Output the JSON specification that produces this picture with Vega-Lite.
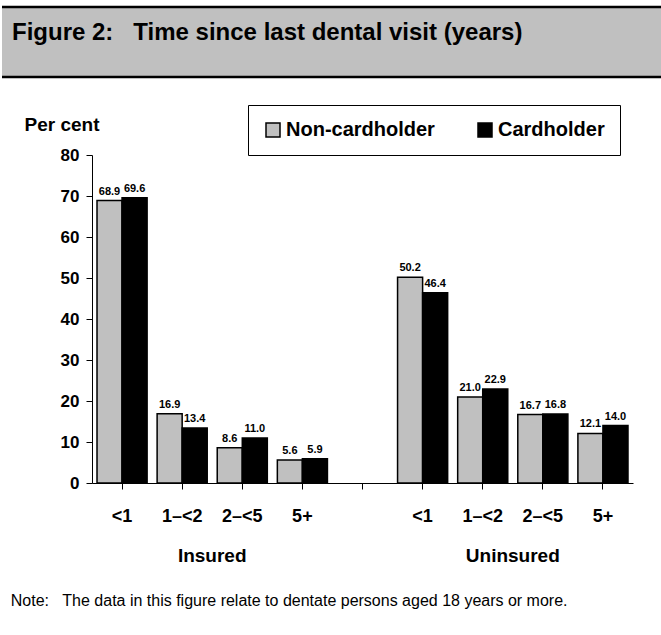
{
  "$schema": "https://vega.github.io/schema/vega-lite/v6.json",
  "padding": {"left": 0, "top": 5, "right": 0, "bottom": 0},
  "background": "white",
  "config": {"font": "Liberation Sans", "view": {"stroke": null}},
  "spacing": 36,
  "title": {
    "text": "Note:\u00a0\u00a0\u00a0The data in this figure relate to dentate persons aged 18 years or more.",
    "orient": "bottom", "anchor": "start", "frame": "bounds", "dx": 10, "offset": 27,
    "fontSize": 16, "fontWeight": "normal", "color": "black", "font": "Liberation Sans"
  },
  "vconcat": [
    {
      "width": 661,
      "height": 70,
      "view": {"fill": "#c0c0c0", "stroke": "black", "strokeWidth": 2.5, "strokeDash": [661, 70]},
      "title": {
        "text": "Figure 2:\u00a0\u00a0\u00a0Time since last dental visit (years)",
        "anchor": "start", "frame": "group", "orient": "top", "offset": -38, "dx": 10,
        "fontSize": 24, "fontWeight": "bold", "color": "black", "font": "Liberation Sans"
      },
      "data": {"values": []},
      "mark": "text"
    },
    {
      "width": 661,
      "height": 328,
      "data": {
        "values": [
          {"group": "Insured", "slot": "<1", "holder": "Non-cardholder", "percent": 68.9},
          {"group": "Insured", "slot": "<1", "holder": "Cardholder", "percent": 69.6},
          {"group": "Insured", "slot": "1–<2", "holder": "Non-cardholder", "percent": 16.9},
          {"group": "Insured", "slot": "1–<2", "holder": "Cardholder", "percent": 13.4},
          {"group": "Insured", "slot": "2–<5", "holder": "Non-cardholder", "percent": 8.6},
          {"group": "Insured", "slot": "2–<5", "holder": "Cardholder", "percent": 11.0},
          {"group": "Insured", "slot": "5+", "holder": "Non-cardholder", "percent": 5.6},
          {"group": "Insured", "slot": "5+", "holder": "Cardholder", "percent": 5.9},
          {"group": "Uninsured", "slot": "<1\u200b", "holder": "Non-cardholder", "percent": 50.2},
          {"group": "Uninsured", "slot": "<1\u200b", "holder": "Cardholder", "percent": 46.4},
          {"group": "Uninsured", "slot": "1–<2\u200b", "holder": "Non-cardholder", "percent": 21.0},
          {"group": "Uninsured", "slot": "1–<2\u200b", "holder": "Cardholder", "percent": 22.9},
          {"group": "Uninsured", "slot": "2–<5\u200b", "holder": "Non-cardholder", "percent": 16.7},
          {"group": "Uninsured", "slot": "2–<5\u200b", "holder": "Cardholder", "percent": 16.8},
          {"group": "Uninsured", "slot": "5+\u200b", "holder": "Non-cardholder", "percent": 12.1},
          {"group": "Uninsured", "slot": "5+\u200b", "holder": "Cardholder", "percent": 14.0}
        ]
      },
      "layer": [
        {
          "mark": {"type": "bar", "stroke": "black", "strokeWidth": 1.5},
          "encoding": {
            "x": {
              "field": "slot", "type": "nominal",
              "scale": {
                "domain": ["<1", "1–<2", "2–<5", "5+", " ", "<1\u200b", "1–<2\u200b", "2–<5\u200b", "5+\u200b"],
                "range": [90, 631], "paddingInner": 0, "paddingOuter": 0
              },
              "axis": {
                "title": null, "tickSize": 6, "tickColor": "black", "domainColor": "black",
                "labelFontSize": 18, "labelFontWeight": "bold", "labelColor": "black", "labelPadding": 18,
                "labelAngle": 0, "grid": false
              }
            },
            "xOffset": {
              "field": "holder", "type": "nominal",
              "scale": {"domain": ["Non-cardholder", "Cardholder"], "paddingInner": 0, "paddingOuter": 0.2}
            },
            "y": {
              "field": "percent", "type": "quantitative",
              "scale": {"domain": [0, 80]},
              "axis": {
                "values": [0, 10, 20, 30, 40, 50, 60, 70, 80], "offset": -90,
                "title": "Per cent", "titleAngle": 0, "titleAlign": "left", "titleBaseline": "alphabetic",
                "titleX": -68, "titleY": -25, "titleFontSize": 19, "titleFontWeight": "bold", "titleColor": "black",
                "labelFontSize": 17, "labelFontWeight": "bold", "labelColor": "black", "labelPadding": 7,
                "tickSize": 6, "tickColor": "black", "domainColor": "black", "grid": false
              }
            },
            "color": {
              "field": "holder", "type": "nominal",
              "scale": {"domain": ["Non-cardholder", "Cardholder"], "range": ["#c0c0c0", "#000000"]},
              "legend": {
                "title": null, "orient": "none", "legendX": 246, "legendY": 98, "direction": "horizontal",
                "padding": 15, "strokeColor": "black", "fillColor": "white", "symbolType": "square",
                "symbolSize": 196, "symbolStrokeColor": "black", "symbolStrokeWidth": 1.5,
                "labelFontSize": 20, "labelFontWeight": "bold", "labelColor": "black", "labelOffset": 3,
                "columnPadding": 40
              }
            }
          }
        },
        {
          "mark": {"type": "text", "fontSize": 11, "fontWeight": "bold", "baseline": "alphabetic", "dy": -6, "color": "black"},
          "encoding": {
            "x": {"field": "slot", "type": "nominal"},
            "xOffset": {"field": "holder", "type": "nominal"},
            "y": {"field": "percent", "type": "quantitative"},
            "text": {"field": "percent", "type": "quantitative", "format": ".1f"}
          }
        },
        {
          "data": {"values": [
            {"group": "Insured", "slot": "1–<2"},
            {"group": "Uninsured", "slot": "1–<2\u200b"}
          ]},
          "mark": {"type": "text", "fontSize": 19, "fontWeight": "bold", "baseline": "alphabetic", "align": "center", "dy": 79, "color": "black"},
          "encoding": {
            "x": {"field": "slot", "type": "nominal", "bandPosition": 1},
            "y": {"datum": 0},
            "text": {"field": "group", "type": "nominal"}
          }
        }
      ]
    }
  ]
}
